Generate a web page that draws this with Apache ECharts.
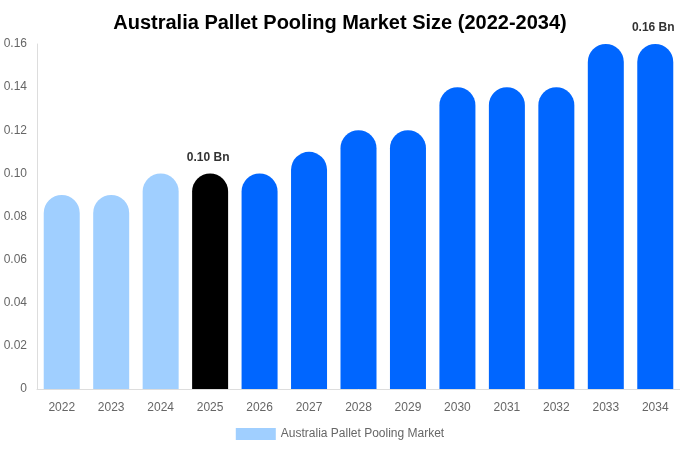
<!DOCTYPE html>
<html lang="en">
<head>
    <meta charset="UTF-8">
    <title>Australia Pallet Pooling Market Size</title>
    <script src="https://cdn.jsdelivr.net/npm/echarts@6/dist/echarts.min.js"></script>
    <style>
        html, body { margin: 0; padding: 0; background: #fff; }
        #main { width: 680px; height: 450px; }
    </style>
</head>
<body>
<div id="main"></div>
<script>
    var years = ['2022', '2023', '2024', '2025', '2026', '2027', '2028', '2029', '2030', '2031', '2032', '2033', '2034'];
    var marketSize = [0.09, 0.09, 0.10, 0.10, 0.10, 0.11, 0.12, 0.12, 0.14, 0.14, 0.14, 0.16, 0.16];
    // history / base year / forecast
    var barColors = ['#a0cfff', '#a0cfff', '#a0cfff', '#000000', '#0066ff', '#0066ff', '#0066ff',
                     '#0066ff', '#0066ff', '#0066ff', '#0066ff', '#0066ff', '#0066ff'];
    var labelled = ['2025', '2034'];

    var chart = echarts.init(document.getElementById('main'));
    var barData = marketSize.map(function (v, i) {
        return {
            value: v,
            itemStyle: { color: barColors[i] },
            label: { show: labelled.indexOf(years[i]) >= 0 }
        };
    });

    chart.setOption({
        animation: false,
        textStyle: { fontFamily: 'Liberation Sans, Arial, sans-serif' },
        title: {
            text: 'Australia Pallet Pooling Market Size (2022-2034)',
            left: 'center',
            top: 8,
            textStyle: { fontSize: 20, fontWeight: 'bold', color: '#000' }
        },
        legend: {
            bottom: 5,
            itemWidth: 40,
            itemHeight: 12,
            icon: 'rect',
            data: ['Australia Pallet Pooling Market'],
            textStyle: { color: '#666', fontSize: 12 },
            itemStyle: { color: '#a0cfff' }
        },
        grid: { left: 37, right: 0, top: 44, bottom: 61 },
        xAxis: {
            type: 'category',
            data: years,
            axisLine: { lineStyle: { color: '#ddd' } },
            axisTick: { show: false },
            axisLabel: { color: '#666', fontSize: 12, margin: 13 }
        },
        yAxis: {
            type: 'value',
            min: 0,
            max: 0.16,
            interval: 0.02,
            axisLine: { show: true, lineStyle: { color: '#ddd' } },
            splitLine: { show: false },
            axisLabel: {
                color: '#666',
                fontSize: 12,
                margin: 10,
                formatter: function (v) { return v === 0 ? '0' : v.toFixed(2); }
            }
        },
        series: [{
            name: 'Australia Pallet Pooling Market',
            type: 'bar',
            barWidth: 36,
            itemStyle: { borderRadius: [18, 18, 0, 0], color: '#a0cfff' },
            label: {
                position: 'top',
                distance: 10,
                offset: [-2, 0],
                fontWeight: 'bold',
                fontSize: 12,
                color: '#333',
                formatter: function (p) { return p.value.toFixed(2) + ' Bn'; }
            },
            data: barData
        }]
    });
</script>
</body>
</html>
